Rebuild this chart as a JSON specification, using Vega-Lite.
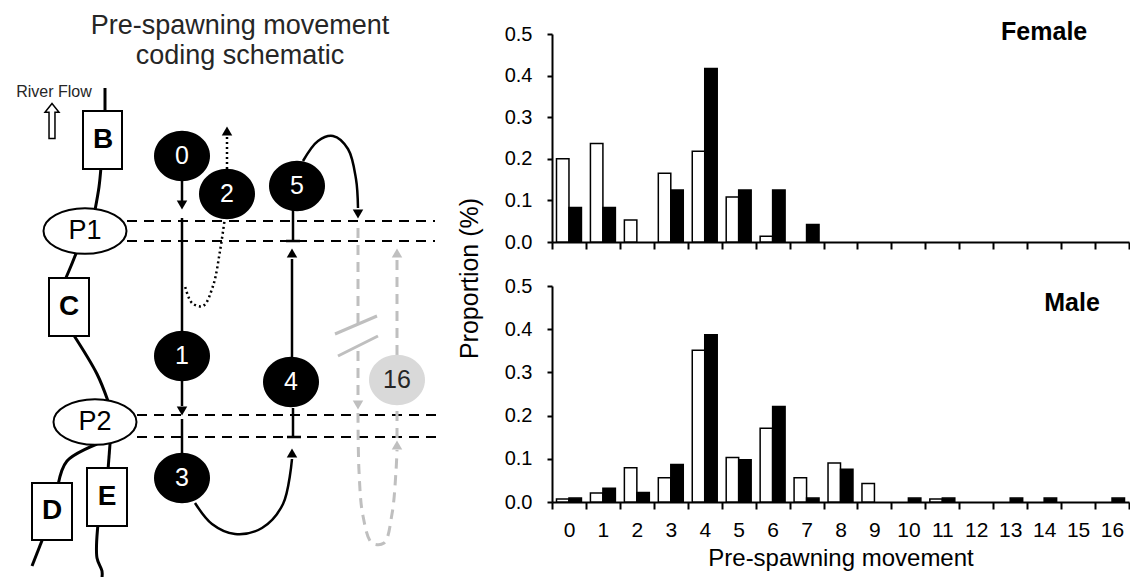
{
  "$schema": "https://vega.github.io/schema/vega-lite/v6.json",
  "padding": {"left": 0, "top": 12, "right": 0, "bottom": 0},
  "bounds": "flush",
  "spacing": 112,
  "config": {
    "view": {"stroke": null},
    "font": "Liberation Sans",
    "axis": {"grid": false, "domainColor": "black", "tickColor": "black", "labelColor": "black", "titleColor": "black", "titleFontWeight": "normal"}
  },
  "datasets": {
    "bars": [
      {"sex": "Female", "m": 0, "grp": "open", "p": 0.200},
      {"sex": "Female", "m": 0, "grp": "filled", "p": 0.083},
      {"sex": "Female", "m": 1, "grp": "open", "p": 0.237},
      {"sex": "Female", "m": 1, "grp": "filled", "p": 0.083},
      {"sex": "Female", "m": 2, "grp": "open", "p": 0.053},
      {"sex": "Female", "m": 3, "grp": "open", "p": 0.165},
      {"sex": "Female", "m": 3, "grp": "filled", "p": 0.125},
      {"sex": "Female", "m": 4, "grp": "open", "p": 0.218},
      {"sex": "Female", "m": 4, "grp": "filled", "p": 0.417},
      {"sex": "Female", "m": 5, "grp": "open", "p": 0.108},
      {"sex": "Female", "m": 5, "grp": "filled", "p": 0.125},
      {"sex": "Female", "m": 6, "grp": "open", "p": 0.014},
      {"sex": "Female", "m": 6, "grp": "filled", "p": 0.125},
      {"sex": "Female", "m": 7, "grp": "filled", "p": 0.042},
      {"sex": "Male", "m": 0, "grp": "open", "p": 0.007},
      {"sex": "Male", "m": 0, "grp": "filled", "p": 0.009},
      {"sex": "Male", "m": 1, "grp": "open", "p": 0.021},
      {"sex": "Male", "m": 1, "grp": "filled", "p": 0.032},
      {"sex": "Male", "m": 2, "grp": "open", "p": 0.079},
      {"sex": "Male", "m": 2, "grp": "filled", "p": 0.022},
      {"sex": "Male", "m": 3, "grp": "open", "p": 0.056},
      {"sex": "Male", "m": 3, "grp": "filled", "p": 0.087},
      {"sex": "Male", "m": 4, "grp": "open", "p": 0.351},
      {"sex": "Male", "m": 4, "grp": "filled", "p": 0.387},
      {"sex": "Male", "m": 5, "grp": "open", "p": 0.103},
      {"sex": "Male", "m": 5, "grp": "filled", "p": 0.098},
      {"sex": "Male", "m": 6, "grp": "open", "p": 0.171},
      {"sex": "Male", "m": 6, "grp": "filled", "p": 0.221},
      {"sex": "Male", "m": 7, "grp": "open", "p": 0.056},
      {"sex": "Male", "m": 7, "grp": "filled", "p": 0.009},
      {"sex": "Male", "m": 8, "grp": "open", "p": 0.090},
      {"sex": "Male", "m": 8, "grp": "filled", "p": 0.076},
      {"sex": "Male", "m": 9, "grp": "open", "p": 0.043},
      {"sex": "Male", "m": 10, "grp": "filled", "p": 0.009},
      {"sex": "Male", "m": 11, "grp": "open", "p": 0.007},
      {"sex": "Male", "m": 11, "grp": "filled", "p": 0.009},
      {"sex": "Male", "m": 13, "grp": "filled", "p": 0.009},
      {"sex": "Male", "m": 14, "grp": "filled", "p": 0.009},
      {"sex": "Male", "m": 16, "grp": "filled", "p": 0.009}
    ],
    "codes": [
      {"code": "0", "x": 182, "y": 155, "kind": "main"},
      {"code": "2", "x": 227, "y": 193, "kind": "main"},
      {"code": "5", "x": 297, "y": 185, "kind": "main"},
      {"code": "1", "x": 182, "y": 355, "kind": "main"},
      {"code": "4", "x": 291, "y": 381, "kind": "main"},
      {"code": "3", "x": 182, "y": 477, "kind": "main"},
      {"code": "16", "x": 397, "y": 379, "kind": "move16"}
    ]
  },
  "hconcat": [
    {
      "width": 440,
      "height": 544,
      "encoding": {
        "x": {"field": "x", "type": "quantitative", "scale": {"domain": [0, 440], "nice": false, "zero": false}, "axis": null},
        "y": {"field": "y", "type": "quantitative", "scale": {"domain": [33, 577], "nice": false, "zero": false, "reverse": true}, "axis": null}
      },
      "layer": [
        {
          "data": {"values": [
            {"x": 127, "x2": 435, "y": 220}, {"x": 127, "x2": 435, "y": 240},
            {"x": 137, "x2": 440, "y": 414}, {"x": 137, "x2": 440, "y": 436}
          ]},
          "mark": {"type": "rule", "color": "black", "strokeWidth": 2, "strokeDash": [10, 7]},
          "encoding": {"x2": {"field": "x2"}}
        },
        {
          "data": {"values": [
            {"seg": "r1", "o": 1, "x": 105, "y": 87}, {"seg": "r1", "o": 2, "x": 105, "y": 112},
            {"seg": "r2", "o": 1, "x": 101, "y": 166}, {"seg": "r2", "o": 2, "x": 99, "y": 186}, {"seg": "r2", "o": 3, "x": 95, "y": 209},
            {"seg": "r3", "o": 1, "x": 77, "y": 250}, {"seg": "r3", "o": 2, "x": 71, "y": 265}, {"seg": "r3", "o": 3, "x": 65, "y": 279},
            {"seg": "r4", "o": 1, "x": 73, "y": 333}, {"seg": "r4", "o": 2, "x": 97, "y": 373}, {"seg": "r4", "o": 3, "x": 108, "y": 400},
            {"seg": "r5", "o": 1, "x": 97, "y": 443}, {"seg": "r5", "o": 2, "x": 67, "y": 460}, {"seg": "r5", "o": 3, "x": 58, "y": 484},
            {"seg": "r6", "o": 1, "x": 43, "y": 537}, {"seg": "r6", "o": 2, "x": 32, "y": 565},
            {"seg": "r7", "o": 1, "x": 110, "y": 443}, {"seg": "r7", "o": 2, "x": 108, "y": 469},
            {"seg": "r8", "o": 1, "x": 98, "y": 523}, {"seg": "r8", "o": 2, "x": 97, "y": 557}, {"seg": "r8", "o": 3, "x": 102, "y": 570}, {"seg": "r8", "o": 4, "x": 102, "y": 577}
          ]},
          "mark": {"type": "line", "color": "black", "strokeWidth": 3, "interpolate": "catmull-rom"},
          "encoding": {"detail": {"field": "seg"}, "order": {"field": "o"}}
        },
        {
          "data": {"values": [
            {"k": "B", "x": 83, "x2": 122, "y": 110, "y2": 168},
            {"k": "C", "x": 49, "x2": 89, "y": 277, "y2": 335},
            {"k": "D", "x": 32, "x2": 72, "y": 482, "y2": 539},
            {"k": "E", "x": 87, "x2": 127, "y": 467, "y2": 525}
          ]},
          "mark": {"type": "rect", "fill": "white", "stroke": "black", "strokeWidth": 2},
          "encoding": {"x2": {"field": "x2"}, "y2": {"field": "y2"}}
        },
        {
          "data": {"values": [
            {"k": "B", "x": 103, "y": 139}, {"k": "C", "x": 69, "y": 306},
            {"k": "D", "x": 52, "y": 510}, {"k": "E", "x": 107, "y": 496}
          ]},
          "mark": {"type": "text", "fontSize": 28, "fontWeight": "bold", "color": "black", "align": "center", "baseline": "middle"},
          "encoding": {"text": {"field": "k"}}
        },
        {
          "data": {"values": [{"k": "P1", "x": 85, "y": 230}, {"k": "P2", "x": 95, "y": 421}]},
          "mark": {"type": "point", "shape": "M -1 0 A 1 0.55 0 1 0 1 0 A 1 0.55 0 1 0 -1 0 Z", "size": 6889, "filled": true, "fill": "white", "stroke": "black", "strokeWidth": 2, "opacity": 1}
        },
        {
          "data": {"values": [{"k": "P1", "x": 85, "y": 230}, {"k": "P2", "x": 95, "y": 421}]},
          "mark": {"type": "text", "fontSize": 27, "color": "black", "align": "center", "baseline": "middle"},
          "encoding": {"text": {"field": "k"}}
        },
        {
          "data": {"values": [
            {"seg": "g1", "o": 1, "x": 358, "y": 227}, {"seg": "g1", "o": 2, "x": 358, "y": 322},
            {"seg": "g2", "o": 1, "x": 358, "y": 350}, {"seg": "g2", "o": 2, "x": 358, "y": 398},
            {"seg": "g3", "o": 1, "x": 358, "y": 412}, {"seg": "g3", "o": 2, "x": 359, "y": 470}, {"seg": "g3", "o": 3, "x": 363, "y": 515}, {"seg": "g3", "o": 4, "x": 372, "y": 542}, {"seg": "g3", "o": 5, "x": 384, "y": 542}, {"seg": "g3", "o": 6, "x": 392, "y": 513}, {"seg": "g3", "o": 7, "x": 396, "y": 470}, {"seg": "g3", "o": 8, "x": 397, "y": 449},
            {"seg": "g4", "o": 1, "x": 397, "y": 437}, {"seg": "g4", "o": 2, "x": 397, "y": 405},
            {"seg": "g5", "o": 1, "x": 397, "y": 354}, {"seg": "g5", "o": 2, "x": 397, "y": 258}
          ]},
          "mark": {"type": "line", "color": "#bfbfbf", "strokeWidth": 3, "strokeDash": [10, 7], "interpolate": "catmull-rom"},
          "encoding": {"detail": {"field": "seg"}, "order": {"field": "o"}}
        },
        {
          "data": {"values": [
            {"x": 335, "x2": 377, "y": 333, "y2": 315},
            {"x": 338, "x2": 378, "y": 355, "y2": 335}
          ]},
          "mark": {"type": "rule", "color": "#bfbfbf", "strokeWidth": 3},
          "encoding": {"x2": {"field": "x2"}, "y2": {"field": "y2"}}
        },
        {
          "data": {"values": [
            {"seg": "b1", "o": 1, "x": 182, "y": 177}, {"seg": "b1", "o": 2, "x": 182, "y": 200},
            {"seg": "b2", "o": 1, "x": 182, "y": 217}, {"seg": "b2", "o": 2, "x": 182, "y": 330},
            {"seg": "b3", "o": 1, "x": 182, "y": 380}, {"seg": "b3", "o": 2, "x": 182, "y": 405},
            {"seg": "b4", "o": 1, "x": 182, "y": 418}, {"seg": "b4", "o": 2, "x": 182, "y": 453},
            {"seg": "b5", "o": 1, "x": 195, "y": 502}, {"seg": "b5", "o": 2, "x": 212, "y": 523}, {"seg": "b5", "o": 3, "x": 235, "y": 533}, {"seg": "b5", "o": 4, "x": 262, "y": 527}, {"seg": "b5", "o": 5, "x": 283, "y": 503}, {"seg": "b5", "o": 6, "x": 292, "y": 458},
            {"seg": "b6", "o": 1, "x": 292, "y": 357}, {"seg": "b6", "o": 2, "x": 292, "y": 258},
            {"seg": "b7", "o": 1, "x": 293, "y": 208}, {"seg": "b7", "o": 2, "x": 293, "y": 240},
            {"seg": "b8", "o": 1, "x": 293, "y": 407}, {"seg": "b8", "o": 2, "x": 293, "y": 436},
            {"seg": "b9", "o": 1, "x": 303, "y": 160}, {"seg": "b9", "o": 2, "x": 318, "y": 140}, {"seg": "b9", "o": 3, "x": 333, "y": 135}, {"seg": "b9", "o": 4, "x": 348, "y": 148}, {"seg": "b9", "o": 5, "x": 356, "y": 178}, {"seg": "b9", "o": 6, "x": 358, "y": 207}
          ]},
          "mark": {"type": "line", "color": "black", "strokeWidth": 2.5, "interpolate": "catmull-rom"},
          "encoding": {"detail": {"field": "seg"}, "order": {"field": "o"}}
        },
        {
          "data": {"values": [
            {"seg": "d1", "o": 1, "x": 227, "y": 168}, {"seg": "d1", "o": 2, "x": 227, "y": 135},
            {"seg": "d2", "o": 1, "x": 225, "y": 216}, {"seg": "d2", "o": 2, "x": 220, "y": 250}, {"seg": "d2", "o": 3, "x": 213, "y": 285}, {"seg": "d2", "o": 4, "x": 203, "y": 305}, {"seg": "d2", "o": 5, "x": 192, "y": 302}, {"seg": "d2", "o": 6, "x": 185, "y": 285}
          ]},
          "mark": {"type": "line", "color": "black", "strokeWidth": 2.5, "strokeDash": [2, 3], "interpolate": "catmull-rom"},
          "encoding": {"detail": {"field": "seg"}, "order": {"field": "o"}}
        },
        {
          "data": {"values": [{"x": 286, "x2": 300, "y": 240}, {"x": 287, "x2": 301, "y": 436}]},
          "mark": {"type": "rule", "color": "black", "strokeWidth": 2.5},
          "encoding": {"x2": {"field": "x2"}}
        },
        {
          "data": {"values": [
            {"x": 182, "y": 204, "dir": "down", "kind": "main"},
            {"x": 182, "y": 410, "dir": "down", "kind": "main"},
            {"x": 227, "y": 130, "dir": "up", "kind": "main"},
            {"x": 292, "y": 252, "dir": "up", "kind": "main"},
            {"x": 292, "y": 452, "dir": "up", "kind": "main"},
            {"x": 358, "y": 213, "dir": "down", "kind": "main"},
            {"x": 358, "y": 404, "dir": "down", "kind": "move16"},
            {"x": 397, "y": 444, "dir": "up", "kind": "move16"},
            {"x": 397, "y": 252, "dir": "up", "kind": "move16"}
          ]},
          "mark": {"type": "point", "filled": true, "size": 110, "opacity": 1},
          "encoding": {
            "shape": {"field": "dir", "type": "nominal", "scale": {"domain": ["up", "down"], "range": ["triangle-up", "triangle-down"]}, "legend": null},
            "color": {"field": "kind", "type": "nominal", "scale": {"domain": ["main", "move16"], "range": ["black", "#bfbfbf"]}, "legend": null}
          }
        },
        {
          "data": {"name": "codes"},
          "transform": [{"filter": "datum.kind === 'main'"}],
          "mark": {"type": "point", "shape": "M -1 0 A 1 0.9 0 1 0 1 0 A 1 0.9 0 1 0 -1 0 Z", "size": 3136, "filled": true, "fill": "black", "strokeWidth": 0, "opacity": 1}
        },
        {
          "data": {"name": "codes"},
          "transform": [{"filter": "datum.kind === 'move16'"}],
          "mark": {"type": "point", "shape": "M -1 0 A 1 0.9 0 1 0 1 0 A 1 0.9 0 1 0 -1 0 Z", "size": 3136, "filled": true, "fill": "#d9d9d9", "strokeWidth": 0, "opacity": 1}
        },
        {
          "data": {"name": "codes"},
          "transform": [{"filter": "datum.kind === 'main'"}],
          "mark": {"type": "text", "fontSize": 25, "align": "center", "baseline": "middle", "fill": "white"},
          "encoding": {"text": {"field": "code"}}
        },
        {
          "data": {"name": "codes"},
          "transform": [{"filter": "datum.kind === 'move16'"}],
          "mark": {"type": "text", "fontSize": 25, "align": "center", "baseline": "middle", "fill": "#262626"},
          "encoding": {"text": {"field": "code"}}
        },
        {
          "data": {"values": [{"x": 52, "y": 120}]},
          "mark": {"type": "point", "shape": "M 0 -1 L 0.4 -0.5 L 0.17 -0.5 L 0.17 1 L -0.17 1 L -0.17 -0.5 L -0.4 -0.5 Z", "size": 1225, "filled": true, "fill": "white", "stroke": "black", "strokeWidth": 1.5, "opacity": 1}
        },
        {
          "data": {"values": [
            {"t": "River Flow", "x": 54, "y": 91, "fs": "small"},
            {"t": "Pre-spawning movement", "x": 240, "y": 25, "fs": "big"},
            {"t": "coding schematic", "x": 240, "y": 55, "fs": "big"}
          ]},
          "mark": {"type": "text", "align": "center", "baseline": "middle", "color": "#262626"},
          "encoding": {
            "text": {"field": "t"},
            "size": {"field": "fs", "type": "nominal", "scale": {"domain": ["small", "big"], "range": [16, 27]}, "legend": null}
          }
        }
      ]
    },
    {
      "vconcat": [
        {
          "width": 577,
          "height": 208,
          "data": {"name": "bars"},
          "transform": [{"filter": "datum.sex === 'Female'"}],
          "encoding": {
            "x": {"field": "m", "type": "ordinal", "scale": {"domain": [0,1,2,3,4,5,6,7,8,9,10,11,12,13,14,15,16], "paddingInner": 0, "paddingOuter": 0},
                  "axis": {"labels": false, "title": null, "tickBand": "extent", "domainWidth": 2, "tickWidth": 2, "tickSize": 7}}
          },
          "layer": [
            {
              "mark": {"type": "bar", "stroke": "black", "strokeWidth": 1.5},
              "encoding": {
                "xOffset": {"field": "grp", "type": "nominal", "scale": {"domain": ["open", "filled"], "paddingInner": 0, "paddingOuter": 0.36}},
                "y": {"field": "p", "type": "quantitative", "scale": {"domain": [0, 0.5], "nice": false},
                      "axis": {"title": null, "values": [0, 0.1, 0.2, 0.3, 0.4, 0.5], "format": ".1f", "labelFontSize": 20, "labelPadding": 15, "tickSize": 5, "tickWidth": 2, "domainWidth": 2}},
                "fill": {"field": "grp", "type": "nominal", "scale": {"domain": ["open", "filled"], "range": ["white", "black"]}, "legend": null}
              }
            },
            {
              "data": {"values": [{"m": 14, "p": 0.5, "label": "Female"}]},
              "mark": {"type": "text", "fontSize": 25, "fontWeight": "bold", "color": "black", "align": "center", "baseline": "middle", "dy": -2},
              "encoding": {"y": {"field": "p", "type": "quantitative"}, "text": {"field": "label"}}
            }
          ]
        },
        {
          "width": 577,
          "height": 216,
          "data": {"name": "bars"},
          "transform": [{"filter": "datum.sex === 'Male'"}],
          "encoding": {
            "x": {"field": "m", "type": "ordinal", "scale": {"domain": [0,1,2,3,4,5,6,7,8,9,10,11,12,13,14,15,16], "paddingInner": 0, "paddingOuter": 0},
                  "axis": {"title": "Pre-spawning movement", "titleFontSize": 24, "titlePadding": 6, "labelAngle": 0, "labelFontSize": 21, "labelPadding": 10, "tickBand": "extent", "domainWidth": 2, "tickWidth": 2, "tickSize": 7}}
          },
          "layer": [
            {
              "mark": {"type": "bar", "stroke": "black", "strokeWidth": 1.5},
              "encoding": {
                "xOffset": {"field": "grp", "type": "nominal", "scale": {"domain": ["open", "filled"], "paddingInner": 0, "paddingOuter": 0.36}},
                "y": {"field": "p", "type": "quantitative", "scale": {"domain": [0, 0.5], "nice": false},
                      "axis": {"title": "Proportion (%)", "titleFontSize": 25, "titleX": -70, "titleY": -8, "values": [0, 0.1, 0.2, 0.3, 0.4, 0.5], "format": ".1f", "labelFontSize": 20, "labelPadding": 15, "tickSize": 5, "tickWidth": 2, "domainWidth": 2}},
                "fill": {"field": "grp", "type": "nominal", "scale": {"domain": ["open", "filled"], "range": ["white", "black"]}, "legend": null}
              }
            },
            {
              "data": {"values": [{"m": 15, "p": 0.46, "label": "Male"}]},
              "mark": {"type": "text", "fontSize": 25, "fontWeight": "bold", "color": "black", "align": "center", "baseline": "middle", "dx": -6},
              "encoding": {"y": {"field": "p", "type": "quantitative"}, "text": {"field": "label"}}
            }
          ]
        }
      ],
      "bounds": "flush",
      "spacing": 44
    }
  ]
}
